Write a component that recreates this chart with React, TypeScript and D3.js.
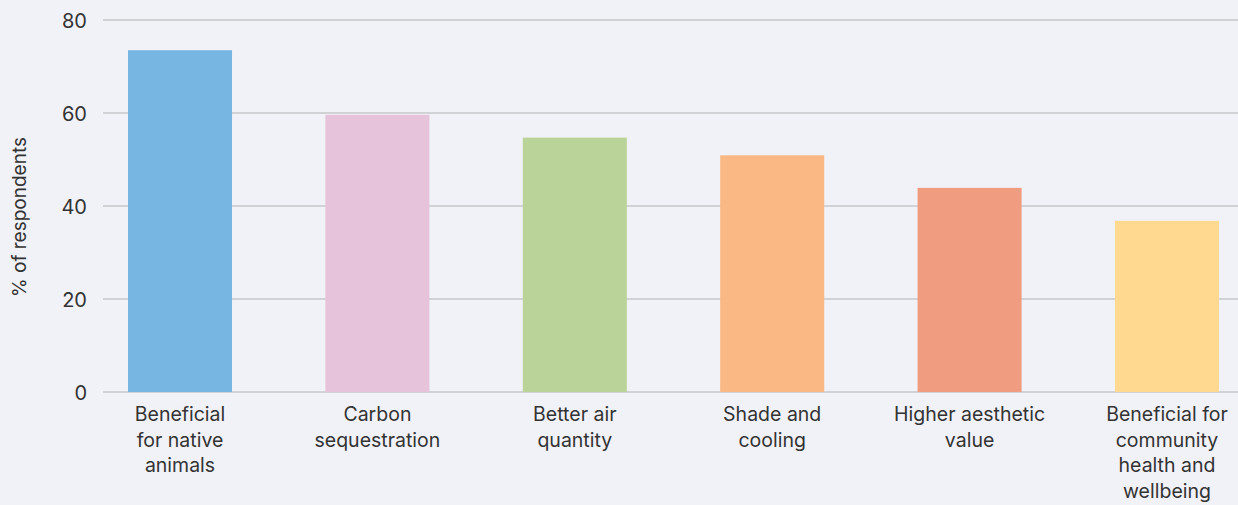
import React from "react";
import * as d3 from "d3";

const categories: string[][] = [
  ["Beneficial", "for native", "animals"],
  ["Carbon", "sequestration"],
  ["Better air", "quantity"],
  ["Shade and", "cooling"],
  ["Higher aesthetic", "value"],
  ["Beneficial for", "community", "health and", "wellbeing"],
];
const values: number[] = [73.5, 59.6, 54.7, 50.9, 43.9, 36.8];
const colors: string[] = ["#77b5e2", "#e6c3da", "#bad398", "#f9b884", "#f09c80", "#fed98f"];
const yTicks: number[] = [0, 20, 40, 60, 80];
const yTitle = "% of respondents";

const W = 1238;
const H = 505;

export default function App() {
  const keys = categories.map((c) => c.join(" "));
  const x = d3.scaleBand<string>().domain(keys).range([128, 1219]).paddingInner(0.473).paddingOuter(0);
  const y = d3.scaleLinear().domain([0, 80]).range([392, 20]);
  const font = "Inter, Roboto, sans-serif";
  return (
    <svg width={W} height={H} style={{ position: "fixed", left: 0, top: 0, background: "#f1f2f7" }}>
      <rect x={0} y={0} width={W} height={H} fill="#f1f2f7" />
      {yTicks.map((t) => (
        <g key={t}>
          <line x1={103} x2={W} y1={y(t)} y2={y(t)} stroke="#c6c7cb" strokeWidth={1.3} />
          <text x={87} y={y(t)} dy="0.38em" textAnchor="end" fontFamily={font} fontSize={20} fill="#333">
            {t}
          </text>
        </g>
      ))}
      {keys.map((k, i) => (
        <rect key={k} x={x(k)} y={y(values[i])} width={x.bandwidth()} height={y(0) - y(values[i])} fill={colors[i]} />
      ))}
      {categories.map((lines, i) => (
        <text key={i} textAnchor="middle" fontFamily={font} fontSize={19.5} fill="#333">
          {lines.map((l, j) => (
            <tspan key={j} x={(x(keys[i]) as number) + x.bandwidth() / 2} y={421 + j * 25.7}>
              {l}
            </tspan>
          ))}
        </text>
      ))}
      <text
        transform={`translate(26,217) rotate(-90)`}
        textAnchor="middle"
        fontFamily={font}
        fontSize={19}
        fill="#333"
      >
        {yTitle}
      </text>
    </svg>
  );
}
